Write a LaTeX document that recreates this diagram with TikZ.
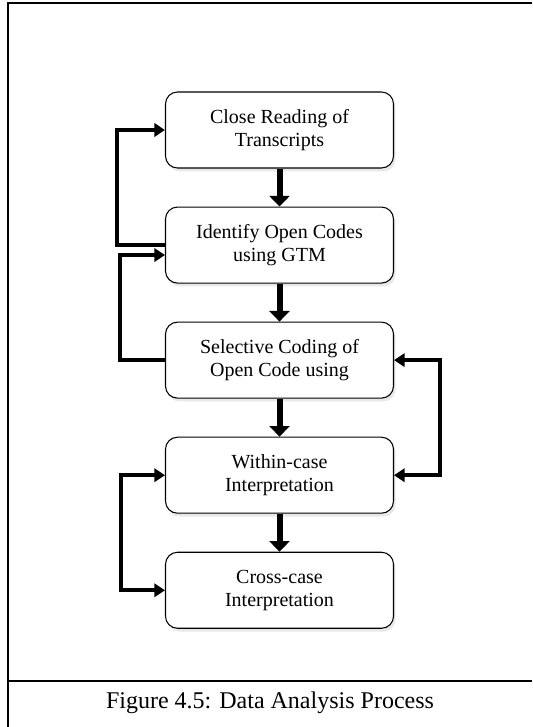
\documentclass[tikz,border=0pt]{standalone}
\usepackage{fontspec}
\setmainfont{Liberation Serif}
\usetikzlibrary{positioning,arrows.meta,shadows,calc}

\begin{document}
\begin{tikzpicture}[x=0.75pt,y=-0.75pt,
        stage/.style={draw, thick, fill=white, rounded corners=9pt, align=center,
                minimum width=171pt, minimum height=57pt, inner sep=2pt,
                font=\fontsize{15}{17.5}\selectfont,
                drop shadow={opacity=0.18, shadow xshift=1.5pt, shadow yshift=-2.5pt}},
        flow/.style={line width=4.5pt, -{Triangle[length=8pt,width=15pt]}},
        loop/.style={line width=3pt, -{Triangle[length=8pt,width=10pt]}},
        node distance=28.5pt]
        \useasboundingbox (0,0) rectangle (532,727);
        % frame of the figure
        \draw[line width=2pt] (532,3) -- (8,3) -- (8,727);
        \draw[line width=2pt] (8,681) -- (532,681);
        % the five stages
        \node[stage] (read) at (279.5,130) {Close Reading of\\Transcripts};
        \node[stage, below=of read] (open) {Identify Open Codes\\using GTM};
        \node[stage, below=of open] (select) {Selective Coding of\\Open Code using};
        \node[stage, below=of select] (within) {Within-case\\Interpretation};
        \node[stage, below=of within] (cross) {Cross-case\\Interpretation};
        % main flow
        \draw[flow] (read) -- (open);
        \draw[flow] (open) -- (select);
        \draw[flow] (select) -- (within);
        \draw[flow] (within) -- (cross);
        % feedback loops
        \draw[loop] (open.west) -- ++(-48,0) |- (read.west);
        \draw[loop] (select.west) -- ++(-45,0) |- ($(open.west)+(0,10)$);
        \draw[loop, {Triangle[length=8pt,width=10pt]}-{Triangle[length=8pt,width=10pt]}]
                (select.east) -- ++(46,0) |- (within.east);
        \draw[loop, {Triangle[length=8pt,width=10pt]}-{Triangle[length=8pt,width=10pt]}]
                (within.west) -- ++(-44,0) |- (cross.west);
        % caption
        \node[font=\fontsize{18}{21}\selectfont] (caption) at (270,703) {Figure 4.5: Data Analysis Process};
\end{tikzpicture}
\end{document}
